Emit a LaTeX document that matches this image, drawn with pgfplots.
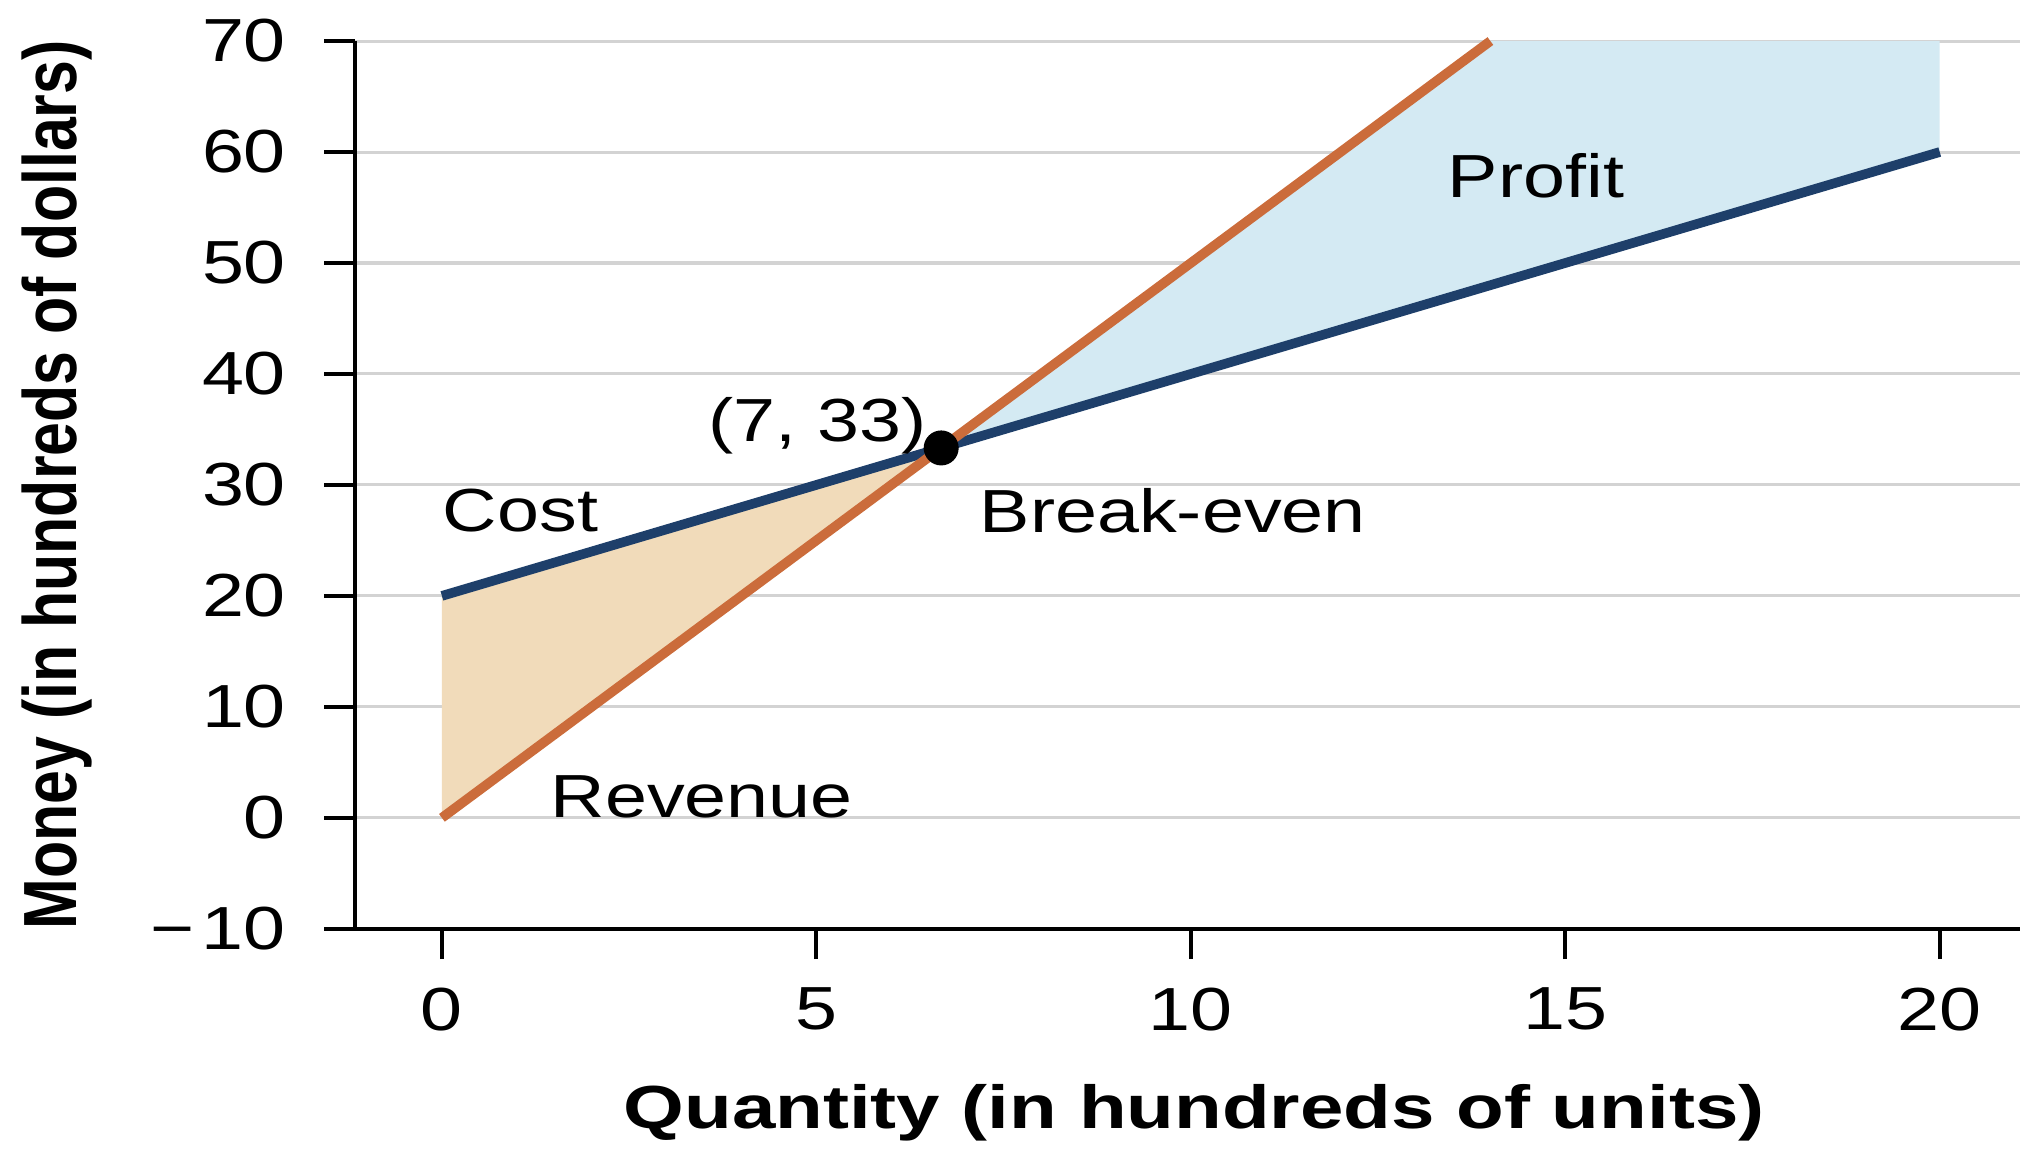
\documentclass[border=0pt]{standalone}
\usepackage{fontspec}
\setmainfont{Liberation Sans}[FakeStretch=1.24]
\newfontfamily\ylabfont{Liberation Sans}
\usepackage{graphicx}
\usepackage{pgfplots}
\pgfplotsset{compat=1.18}
\definecolor{costc}{HTML}{1E3F6A}
\definecolor{revc}{HTML}{CB6C3B}
\definecolor{lossc}{HTML}{F1DBBA}
\definecolor{profc}{HTML}{D4EAF3}
\definecolor{gridc}{HTML}{D3D3D3}
\begin{document}
\begin{tikzpicture}
\begin{axis}[
  scale only axis, width=328.4pt, height=175.1pt,
  at={(0,0)}, anchor=south west,
  xmin=-1.162, xmax=21.07, ymin=-10, ymax=70,
  axis x line=bottom, axis y line=left,
  axis line style={-, line width=0.8pt, black},
  xtick={0,5,10,15,20}, ytick={-10,0,10,20,30,40,50,60,70},
  xticklabels={0,5,10,15,20},
  yticklabels={−\kern1.5pt10,0,10,20,30,40,50,60,70},
  tick align=outside, major tick length=6pt,
  tick style={line width=0.8pt, black},
  ymajorgrids, grid style={line width=0.6pt, color=gridc},
  /pgf/number format/assume math mode=true,
  ticklabel style={font=\fontsize{12}{14}\selectfont, inner sep=0pt},
  xticklabel style={anchor=north, yshift=-5.4pt},
  yticklabel style={anchor=east, xshift=-7.4pt},
  clip=false,
]
% loss region
\addplot[fill=lossc, draw=none] coordinates {(0,20) (6.6667,33.3333) (0,0)} -- cycle;
% profit region
\addplot[fill=profc, draw=none] coordinates {(6.6667,33.3333) (14,70) (20,70) (20,60)} -- cycle;
% cost
\addplot[costc, line width=1.9pt] coordinates {(0,20) (20,60)};
% revenue
\addplot[revc, line width=1.9pt] coordinates {(0,0) (14,70)};
% break-even point
\addplot[only marks, mark=*, mark size=3.25pt, black] coordinates {(6.6667,33.3333)};
\node[anchor=base west, inner sep=0pt, font=\fontsize{12}{14}\selectfont] at (axis cs:0,25.8) {Cost};
\node[anchor=base west, inner sep=0pt, font=\fontsize{12}{14}\selectfont] at (axis cs:7.17,25.7) {Break-even};
\node[anchor=base west, inner sep=0pt, font=\fontsize{12}{14}\selectfont] at (axis cs:1.44,0) {Revenue};
\node[anchor=base west, inner sep=0pt, font=\fontsize{12}{14}\selectfont] at (axis cs:13.42,55.9) {Profit};
\node[anchor=base west, inner sep=0pt, font=\fontsize{12}{14}\selectfont] at (axis cs:3.55,33.9) {(7, 33)};
\end{axis}
\node[anchor=base, inner sep=0pt, font=\fontsize{12}{14}\selectfont\bfseries] at (165.5pt,-39.3pt) {\scalebox{1.035}[1]{Quantity (in hundreds of units)}};
\node[rotate=90, anchor=base, inner sep=0pt] at (-54.9pt,87.55pt) {\ylabfont\fontsize{12}{14}\selectfont\bfseries\scalebox{1}[1.24]{Money (in hundreds of dollars)}};
\pgfresetboundingbox
\useasboundingbox (-70pt,-43.8pt) rectangle (330pt,183.2pt);
\end{tikzpicture}
\end{document}
